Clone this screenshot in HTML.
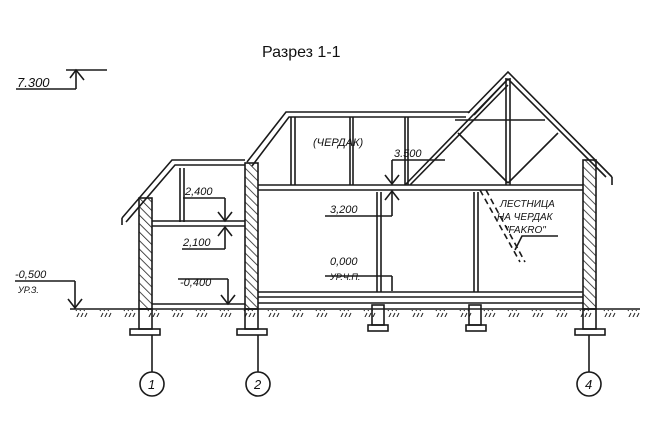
<!DOCTYPE html>
<html><head><meta charset="utf-8"><style>
html,body{margin:0;padding:0;background:#fff;}
svg{display:block}
text{font-family:"Liberation Sans","DejaVu Sans",sans-serif;fill:#111}
.h{font-style:italic;font-size:11px}
</style></head><body>
<svg width="670" height="422" viewBox="0 0 670 422" xmlns="http://www.w3.org/2000/svg">
<defs>
<pattern id="hat" width="6" height="6" patternUnits="userSpaceOnUse" patternTransform="rotate(-45)">
<line x1="0" y1="0" x2="0" y2="6" stroke="#222" stroke-width="1.6"/>
</pattern>
<pattern id="gr" width="24" height="8" patternUnits="userSpaceOnUse">
<line x1="4" y1="7" x2="7" y2="1" stroke="#222" stroke-width="1"/>
<line x1="8" y1="7" x2="11" y2="1" stroke="#222" stroke-width="1"/>
<line x1="12" y1="7" x2="15" y2="1" stroke="#222" stroke-width="1"/>
</pattern>
</defs>
<rect x="70" y="310" width="570" height="7" fill="url(#gr)"/>
<g stroke="#1a1a1a" fill="none" stroke-width="1.6">
<text x="262" y="57" style="font-size:16px;stroke:none">Разрез 1-1</text>
<line x1="16" y1="89" x2="76" y2="89"/><line x1="76" y1="89" x2="76" y2="70"/>
<line x1="66" y1="70" x2="107" y2="70"/><polyline points="70,78 76,70 84,80"/>
<line x1="70" y1="309" x2="640" y2="309"/>
<rect x="139" y="198" width="13" height="111" fill="url(#hat)"/>
<rect x="245" y="163" width="13" height="146" fill="url(#hat)"/>
<rect x="583" y="160" width="13" height="149" fill="url(#hat)"/>
<polyline points="122,218 172,160 245,160"/><polyline points="126,222 175,165 245,165"/>
<line x1="122" y1="218" x2="122" y2="225"/>
<line x1="180" y1="168" x2="180" y2="222"/><line x1="184" y1="168" x2="184" y2="222"/>
<line x1="152" y1="221" x2="245" y2="221"/><line x1="152" y1="226" x2="245" y2="226"/>
<line x1="152" y1="304" x2="245" y2="304"/>
<polyline points="247,162 286,112 470,112"/><polyline points="252,166 289,117 466,117"/>
<line x1="291" y1="117" x2="291" y2="185"/><line x1="295" y1="117" x2="295" y2="185"/>
<line x1="350" y1="117" x2="350" y2="185"/><line x1="353" y1="117" x2="353" y2="185"/>
<line x1="405" y1="117" x2="405" y2="185"/><line x1="408" y1="117" x2="408" y2="185"/>
<polyline points="468,113 508,72 612,177"/><polyline points="474,115 508,79 606,177"/>
<line x1="405" y1="185" x2="508" y2="79"/><line x1="410" y1="185" x2="508" y2="85"/>
<line x1="506" y1="78" x2="506" y2="185"/><line x1="510" y1="78" x2="510" y2="185"/>
<line x1="458" y1="133" x2="508" y2="183"/><line x1="558" y1="133" x2="508" y2="183"/>
<line x1="455" y1="120" x2="545" y2="120"/>
<line x1="612" y1="177" x2="612" y2="185"/>
<line x1="258" y1="185" x2="583" y2="185"/><line x1="258" y1="190" x2="583" y2="190"/>
<line x1="258" y1="292" x2="583" y2="292"/><line x1="258" y1="297" x2="583" y2="297"/>
<line x1="258" y1="303" x2="583" y2="303"/>
<line x1="377" y1="192" x2="377" y2="292"/><line x1="381" y1="192" x2="381" y2="292"/>
<line x1="474" y1="192" x2="474" y2="292"/><line x1="478" y1="192" x2="478" y2="292"/>
<line x1="480" y1="190" x2="520" y2="262" stroke-dasharray="6,4"/>
<line x1="486" y1="190" x2="525" y2="262" stroke-dasharray="6,4"/>
<polyline points="558,236 522,236 515,250"/>
<rect x="139" y="309" width="13" height="20"/><rect x="130" y="329" width="30" height="6"/>
<rect x="245" y="309" width="13" height="20"/><rect x="237" y="329" width="30" height="6"/>
<rect x="372" y="305" width="12" height="20"/><rect x="368" y="325" width="20" height="6"/>
<rect x="469" y="305" width="12" height="20"/><rect x="466" y="325" width="20" height="6"/>
<rect x="583" y="309" width="13" height="20"/><rect x="575" y="329" width="30" height="6"/>
<line x1="152" y1="335" x2="152" y2="372"/><circle cx="152" cy="384" r="12"/>
<line x1="258" y1="335" x2="258" y2="372"/><circle cx="258" cy="384" r="12"/>
<line x1="589" y1="335" x2="589" y2="372"/><circle cx="589" cy="384" r="12"/>
<line x1="183" y1="198" x2="225" y2="198"/><line x1="225" y1="198" x2="225" y2="221"/><polyline points="218,212 225,221 232,212"/>
<line x1="182" y1="249" x2="225" y2="249"/><line x1="225" y1="249" x2="225" y2="227"/><polyline points="218,236 225,227 232,236"/>
<line x1="178" y1="279" x2="228" y2="279"/><line x1="228" y1="279" x2="228" y2="304"/><polyline points="221,295 228,304 235,295"/>
<line x1="15" y1="281" x2="75" y2="281"/><line x1="75" y1="281" x2="75" y2="308"/><polyline points="68,299 75,308 82,299"/>
<line x1="392" y1="160" x2="445" y2="160"/><line x1="392" y1="160" x2="392" y2="184"/><polyline points="385,175 392,184 399,175"/>
<line x1="325" y1="216" x2="392" y2="216"/><line x1="392" y1="216" x2="392" y2="191"/><polyline points="385,200 392,191 399,200"/>
<line x1="325" y1="276" x2="392" y2="276"/><line x1="392" y1="276" x2="392" y2="291"/>
</g>
<g stroke="none">
<text class="h" x="17" y="87" style="font-size:13px">7.300</text>
<text class="h" x="185" y="195">2,400</text>
<text class="h" x="183" y="246">2,100</text>
<text class="h" x="180" y="286">-0,400</text>
<text class="h" x="15" y="278">-0,500</text>
<text class="h" x="18" y="293" style="font-size:9px">УР.З.</text>
<text class="h" x="313" y="146">(ЧЕРДАК)</text>
<text class="h" x="394" y="157">3.500</text>
<text class="h" x="330" y="213">3,200</text>
<text class="h" x="330" y="265">0,000</text>
<text class="h" x="330" y="280" style="font-size:9px">УР.Ч.П.</text>
<text class="h" x="500" y="207" style="font-size:10px">ЛЕСТНИЦА</text>
<text class="h" x="497" y="220" style="font-size:10px">НА ЧЕРДАК</text>
<text class="h" x="505" y="233" style="font-size:10px">"FAKRO"</text>
<text class="h" x="148" y="389" style="font-size:13px">1</text>
<text class="h" x="254" y="389" style="font-size:13px">2</text>
<text class="h" x="585" y="389" style="font-size:13px">4</text>
</g>
</svg>
</body></html>
